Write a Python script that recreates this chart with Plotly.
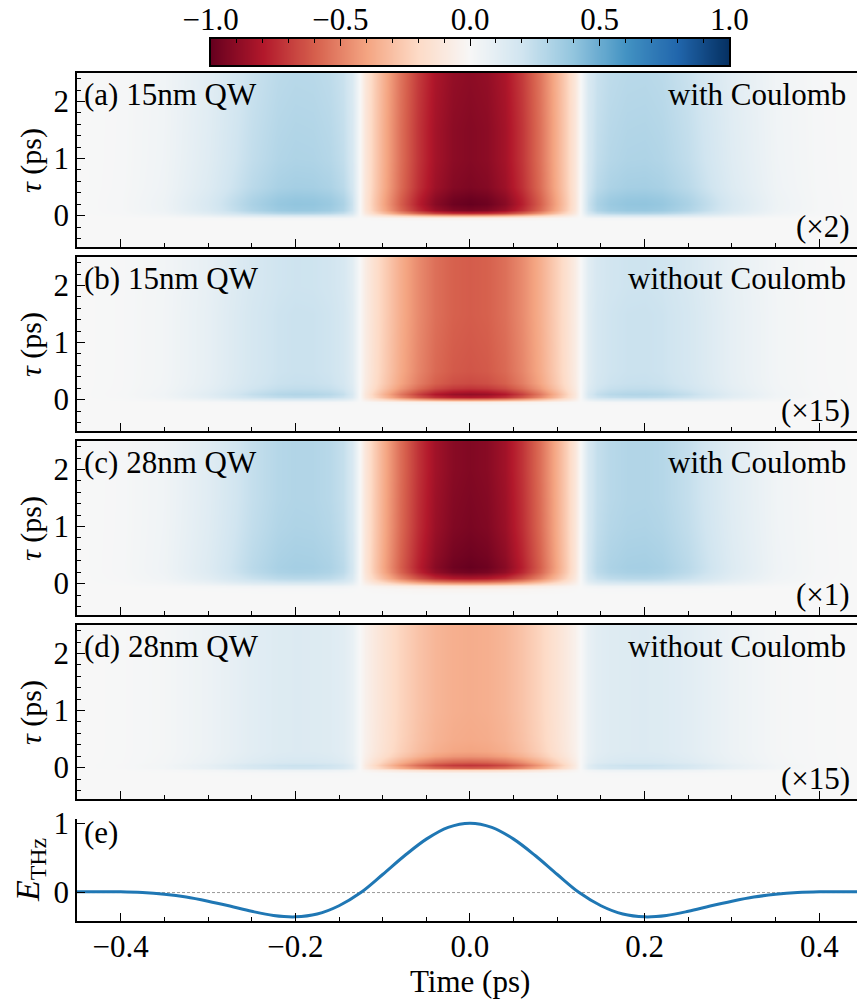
import numpy as np
import plotly.graph_objects as go

# ---------------- data ----------------
# time grid (ps) for the heat maps
t_grid = [-0.45, -0.40, -0.35, -0.30, -0.25, -0.22, -0.20, -0.18, -0.16, -0.145, -0.135,
          -0.127, -0.12, -0.11, -0.10, -0.08, -0.06, -0.04, -0.02, 0.00,
          0.02, 0.04, 0.06, 0.08, 0.10, 0.11, 0.12, 0.127, 0.135, 0.145, 0.16,
          0.18, 0.20, 0.22, 0.25, 0.30, 0.35, 0.40, 0.45]
# normalised time profile of the signal (negative lobe -> -1, positive lobes -> +1)
t_shape = [0.00, 0.03, 0.13, 0.40, 0.80, 0.96, 1.00, 0.99, 0.93, 0.80, 0.55,
           0.05, -0.13, -0.27, -0.39, -0.60, -0.78, -0.91, -0.98, -1.00,
           -0.98, -0.91, -0.78, -0.60, -0.39, -0.27, -0.13, 0.05, 0.55, 0.80, 0.93,
           0.99, 1.00, 0.96, 0.80, 0.40, 0.13, 0.03, 0.00]
# delay grid tau (ps)
tau_grid = [-0.55, -0.20, -0.10, -0.05, 0.00, 0.05, 0.10, 0.20, 0.30, 0.50, 1.00, 1.50, 2.00, 2.50]
# amplitude of the negative (red) and positive (blue) parts versus tau, per panel
a_neg = [0, 0, 0.00, 0.05, 0.30, 0.75, 0.95, 1.00, 0.99, 0.94, 0.92, 0.92, 0.91, 0.90]
a_pos = [0, 0, 0.00, 0.03, 0.14, 0.30, 0.38, 0.40, 0.39, 0.34, 0.31, 0.30, 0.29, 0.28]
b_neg = [0, 0, 0.00, 0.05, 0.40, 0.80, 0.88, 0.72, 0.66, 0.63, 0.62, 0.61, 0.61, 0.61]
b_pos = [0, 0, 0.00, 0.02, 0.12, 0.26, 0.30, 0.25, 0.23, 0.22, 0.22, 0.22, 0.21, 0.21]
c_neg = [0, 0, 0.03, 0.12, 0.35, 0.62, 0.82, 0.97, 1.00, 0.98, 0.95, 0.94, 0.93, 0.93]
c_pos = [0, 0, 0.01, 0.05, 0.13, 0.22, 0.28, 0.33, 0.34, 0.33, 0.31, 0.30, 0.30, 0.30]
d_neg = [0, 0, 0.02, 0.20, 0.60, 0.72, 0.60, 0.45, 0.40, 0.38, 0.37, 0.37, 0.37, 0.37]
d_pos = [0, 0, 0.01, 0.06, 0.20, 0.22, 0.17, 0.15, 0.14, 0.14, 0.14, 0.14, 0.14, 0.14]

panel_titles = ["(a) 15nm QW", "(b) 15nm QW", "(c) 28nm QW", "(d) 28nm QW"]
panel_cases = ["with Coulomb", "without Coulomb", "with Coulomb", "without Coulomb"]
panel_scales = ["(\u00d72)", "(\u00d715)", "(\u00d71)", "(\u00d715)"]

# THz field, panel (e)
t_e = [-0.45, -0.425, -0.40, -0.375, -0.35, -0.325, -0.30, -0.275, -0.25, -0.225, -0.20,
       -0.175, -0.15, -0.125, -0.10, -0.075, -0.05, -0.025, 0.0,
       0.025, 0.05, 0.075, 0.10, 0.125, 0.15, 0.175, 0.20, 0.225, 0.25, 0.275, 0.30,
       0.325, 0.35, 0.375, 0.40, 0.425, 0.45]
E_thz = [0.010, 0.012, 0.011, 0.000, -0.025, -0.065, -0.125, -0.195, -0.270, -0.330, -0.350,
         -0.310, -0.190, 0.000, 0.260, 0.530, 0.770, 0.940, 1.000,
         0.940, 0.770, 0.530, 0.260, 0.000, -0.190, -0.310, -0.350, -0.330, -0.270, -0.195, -0.125,
         -0.065, -0.025, 0.000, 0.011, 0.012, 0.010]

# ---------------- styling ----------------
W, H = 857, 1004
FONT = "Liberation Serif"
FS = 31
RdBu = ['rgb(103,0,31)', 'rgb(178,24,43)', 'rgb(214,96,77)', 'rgb(244,165,130)',
        'rgb(253,219,199)', 'rgb(247,247,247)', 'rgb(209,229,240)', 'rgb(146,197,222)',
        'rgb(67,147,195)', 'rgb(33,102,172)', 'rgb(5,48,97)']
cscale = [[i / 10, c] for i, c in enumerate(RdBu)]

def py(px):  # pixel from top -> paper y
    return 1 - px / H

def pxx(px):
    return px / W

X0 = 77
XR = [-0.45, (W - 470) / 873.3]
panel_px = [(73, 247), (257, 431), (441, 615), (625, 799)]
e_px = (819, 921)
cb_px = (39, 65)
cb_x = (210.7, 729.3)

fig = go.Figure()
AX = dict(showline=True, linecolor="black", linewidth=1.6, ticks="inside",
          tickcolor="black", tickwidth=1.4, ticklen=8, showgrid=False, zeroline=False,
          automargin=False, tickfont=dict(family=FONT, size=FS, color="black"))
MINOR = dict(ticks="inside", ticklen=4, tickwidth=1.2, tickcolor="black", tick0=0)
TXT = dict(family=FONT, size=FS, color="black")

shape = np.array(t_shape)
envs = [(a_neg, a_pos), (b_neg, b_pos), (c_neg, c_pos), (d_neg, d_pos)]
for i, (neg, pos) in enumerate(envs):
    n = i + 1
    neg = np.array(neg)[:, None]
    pos = np.array(pos)[:, None]
    z = np.where(shape[None, :] < 0, shape[None, :] * neg, shape[None, :] * pos)
    fig.add_trace(go.Heatmap(x=t_grid, y=tau_grid, z=z, zmin=-1, zmax=1, colorscale=cscale,
                             zsmooth="best", showscale=False, xaxis=f"x{n}", yaxis=f"y{n}",
                             hoverinfo="skip"))
    top, bot = panel_px[i]
    fig.layout[f"xaxis{n}"] = dict(AX, domain=[pxx(X0), 1], range=XR,
                                   anchor=f"y{n}", mirror=True, tickvals=[-0.4, -0.2, 0, 0.2, 0.4],
                                   showticklabels=False, minor=dict(MINOR, dtick=0.05))
    fig.layout[f"yaxis{n}"] = dict(AX, domain=[py(bot), py(top)], range=[-0.55, 2.5],
                                   anchor=f"x{n}", mirror=False, tickvals=[0, 1, 2],
                                   ticklabelstandoff=0, minor=dict(MINOR, dtick=0.2))
    ymid = (top + bot) / 2
    fig.add_annotation(text=panel_titles[i], xref="paper", yref="paper", x=pxx(82), y=py(top + 21),
                       xanchor="left", yanchor="middle", showarrow=False, font=TXT)
    fig.add_annotation(text=panel_cases[i], xref="paper", yref="paper", x=pxx(848), y=py(top + 21),
                       xanchor="right", yanchor="middle", showarrow=False, font=TXT)
    fig.add_annotation(text=panel_scales[i], xref="paper", yref="paper", x=pxx(852), y=py(bot - 21),
                       xanchor="right", yanchor="middle", showarrow=False, font=TXT)
    fig.add_annotation(text="<i>\u03c4</i> (ps)", xref="paper", yref="paper", x=pxx(31), y=py(ymid),
                       xanchor="center", yanchor="middle", textangle=-90, showarrow=False,
                       font=dict(family=FONT, size=FS - 1, color="black"))

# panel (e)
fig.add_trace(go.Scatter(x=t_e, y=E_thz, mode="lines", line=dict(color="#1f77b4", width=3, shape="spline"),
                         xaxis="x5", yaxis="y5", hoverinfo="skip", showlegend=False))
fig.layout["xaxis5"] = dict(AX, domain=[pxx(X0), 1], range=XR, anchor="y5",
                            mirror=False, tickvals=[-0.4, -0.2, 0, 0.2, 0.4], tickformat=".1f",
                            ticklabelstandoff=-3, minor=dict(MINOR, dtick=0.05))
fig.layout["yaxis5"] = dict(AX, domain=[py(e_px[1]), py(e_px[0])], range=[-0.41, 1.06], anchor="x5",
                            mirror=False, tickvals=[0, 1], ticklabelstandoff=0)
fig.add_shape(type="line", xref="x5 domain", yref="y5", x0=0, x1=1, y0=0, y1=0,
              line=dict(color="#9a9a9a", width=1, dash="3px,2px"), layer="below")
fig.add_annotation(text="(e)", xref="paper", yref="paper", x=pxx(82), y=py(832),
                   xanchor="left", yanchor="middle", showarrow=False, font=TXT)
fig.add_annotation(text="<i>E</i><sub>THz</sub>", xref="paper", yref="paper", x=pxx(30), y=py(870),
                   xanchor="center", yanchor="middle", textangle=-90, showarrow=False,
                   font=dict(family=FONT, size=FS + 3, color="black"))
fig.add_annotation(text="Time (ps)", xref="paper", yref="paper", x=pxx(470), y=py(981),
                   xanchor="center", yanchor="middle", showarrow=False, font=TXT)

# colour bar drawn as its own axis (labels on top)
cb_vals = np.linspace(-1, 1, 256)
fig.add_trace(go.Heatmap(x=cb_vals, y=[0, 1], z=[cb_vals, cb_vals], zmin=-1, zmax=1, colorscale=cscale,
                         zsmooth="best", showscale=False, xaxis="x6", yaxis="y6", hoverinfo="skip"))
fig.layout["xaxis6"] = dict(AX, domain=[pxx(cb_x[0]), pxx(cb_x[1])], range=[-1, 1], anchor="y6", side="top",
                            mirror=True, tickvals=[-1, -0.5, 0, 0.5, 1], tickformat=".1f",
                            ticklen=7, ticklabelstandoff=-5, minor=dict(MINOR, dtick=0.1))
fig.layout["yaxis6"] = dict(domain=[py(cb_px[1]), py(cb_px[0])], range=[0, 1], anchor="x6",
                            showline=True, mirror=True, linecolor="black", linewidth=1.6, automargin=False,
                            ticks="", showticklabels=False, showgrid=False, zeroline=False)

fig.update_layout(width=W, height=H, margin=dict(l=0, r=0, t=0, b=0, autoexpand=False),
                  paper_bgcolor="white", plot_bgcolor="white", showlegend=False,
                  font=dict(family=FONT, size=FS, color="black"))
fig.write_html("out.html")
